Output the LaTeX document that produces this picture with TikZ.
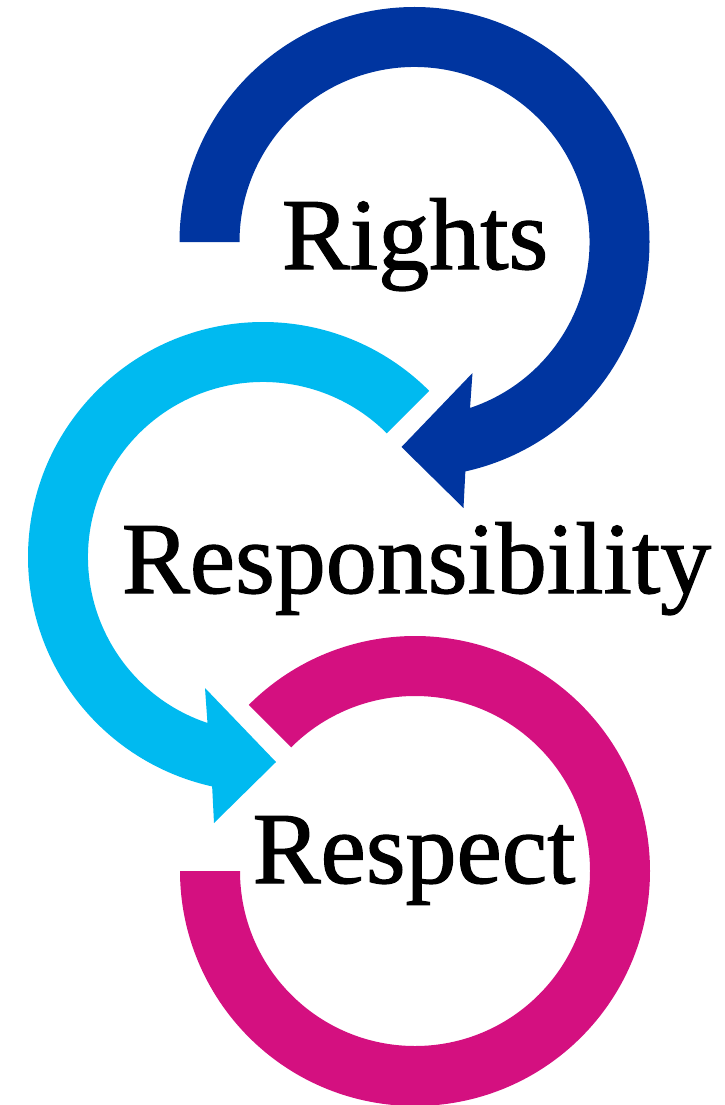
\documentclass[tikz,border=0pt]{standalone}
\usepackage{fontspec}
\setmainfont{Liberation Serif}
\newfontfamily\wordfont{Liberation Serif}[FakeBold=1.2]
\usepackage{xcolor}
\definecolor{rightsblue}{RGB}{0,53,160}
\definecolor{respcyan}{RGB}{0,186,240}
\definecolor{respectpink}{RGB}{212,16,128}
\usetikzlibrary{calc}

\begin{document}
\begin{tikzpicture}[x=1pt,y=-1pt,
  word/.style={anchor=base,inner sep=0,outer sep=0,font=\wordfont\fontsize{102}{120}\selectfont}]
\useasboundingbox (0,0) rectangle (725,1105);

%ring centres
\coordinate (rc) at (414.5,242);
\coordinate (sc) at (263,557);
\coordinate (pc) at (415,871);

%rights ring, arrow head at the lower right
\fill [rightsblue] ($(rc)+(180:235)$) arc[start angle=180,end angle=437.5,radius=235]
  -- ($(rc)+(49,266)$) -- ($(rc)+(-13,205)$) -- ($(rc)+(58,131)$)
  -- ($(rc)+(431.5:175)$) arc[start angle=431.5,end angle=180,radius=175] -- cycle;

%responsibility ring, arrow head at the lower right
\fill [respcyan] ($(sc)+(315:235)$) arc[start angle=315,end angle=102.5,radius=235]
  -- ($(sc)+(-49,266)$) -- ($(sc)+(13,205)$) -- ($(sc)+(-58,131)$)
  -- ($(sc)+(108.5:175)$) arc[start angle=108.5,end angle=315,radius=175] -- cycle;

%respect ring, no arrow head
\fill [respectpink] ($(pc)+(225:235)$) arc[start angle=225,end angle=540,radius=235]
  -- ($(pc)+(540:175)$) arc[start angle=540,end angle=225,radius=175] -- cycle;

%labels
\node (rights) [word] at (415,269) {Rights};
\node (responsibility) [word] at (416.5,593) {Responsibility};
\node (respect) [word] at (414,883) {Respect};
\end{tikzpicture}
\end{document}
